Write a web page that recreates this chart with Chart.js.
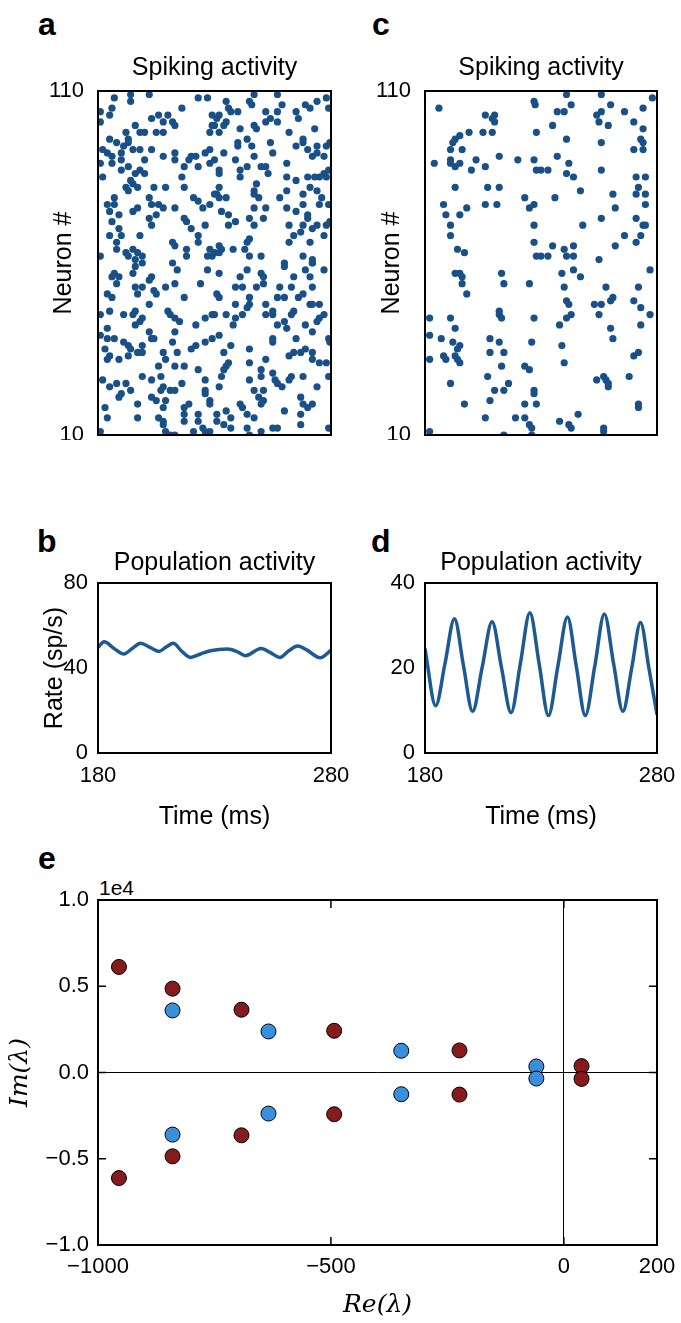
<!DOCTYPE html>
<html>
<head>
<meta charset="utf-8">
<script src="https://cdn.jsdelivr.net/npm/chart.js@4.4.0/dist/chart.umd.min.js"></script>
<style>
  html, body { margin: 0; padding: 0; background: #fff; overflow: hidden; }
  #fig { position: relative; width: 681px; height: 1323px; background: #fff; }
  canvas { position: absolute; }
  .lbl { position: absolute; font-family: "Liberation Sans", Arial, sans-serif; font-weight: bold; font-size: 32px; line-height: 32px; color: #000; }
  .off { position: absolute; font-family: "Liberation Sans", Arial, sans-serif; font-size: 21px; line-height: 21px; color: #000; }
</style>
</head>
<body>
<div id="fig">
  <div class="lbl" style="left:38px; top:8px;">a</div>
  <div class="lbl" style="left:372px; top:8px;">c</div>
  <div class="lbl" style="left:37px; top:525px;">b</div>
  <div class="lbl" style="left:371px; top:525px;">d</div>
  <div class="lbl" style="left:38px; top:842px;">e</div>
  <div class="off" style="left:99px; top:877px;">1e4</div>
  <canvas id="chart_a" width="345" height="400" style="left:0px; top:40px;"></canvas>
  <canvas id="chart_c" width="345" height="400" style="left:327px; top:40px;"></canvas>
  <canvas id="chart_b" width="370" height="302" style="left:0px; top:530px;"></canvas>
  <canvas id="chart_d" width="354" height="302" style="left:327px; top:530px;"></canvas>
  <canvas id="chart_e" width="681" height="443" style="left:0px; top:880px;"></canvas>
</div>
<script>
// spike rasters, [time (ms), neuron #]
const spikes_a = [
  [194,109],[194,107],[202,109],[223,108],[227,108],[187,108],[181,104],[186,105],[185,103],[181,101],
  [216,105],[206,103],[203,102],[210,103],[212,101],[213,100],[208,101],[229,103],[196,100],[229,100],
  [192,98],[198,98],[200,98],[205,98],[208,98],[193,96],[193,95],[191,94],[185,96],[188,95],
  [182,93],[184,92],[186,91],[190,92],[195,93],[198,93],[203,93],[228,98],[228,93],[230,90],
  [208,91],[213,92],[213,90],[219,90],[220,91],[222,91],[226,92],[200,90],[181,89],[186,89],
  [190,90],[190,87],[193,88],[196,86],[198,87],[200,86],[217,88],[216,85],[223,88],[228,89],
  [182,85],[194,84],[195,83],[197,82],[192,82],[193,81],[204,82],[209,82],[217,82],[230,80],
  [187,79],[184,77],[187,77],[185,75],[189,74],[195,75],[197,76],[202,79],[203,77],[206,77],
  [208,76],[213,76],[221,79],[223,78],[225,76],[228,77],[186,72],[202,73],[205,74],[217,73],
  [218,72],[203,71],[226,71],[189,70],[220,70],[185,68],[190,68],[198,68],[223,68],[223,66],
  [212,66],[213,65],[188,66],[188,64],[218,64],[228,64],[195,64],[192,63],[193,62],[197,63],
  [199,62],[181,62],[196,61],[218,62],[227,62],[229,62],
  [235,107],[236,105],[237,104],[232,103],[231,102],[240,104],[245,107],[246,106],[247,109],[257,109],
  [259,106],[269,106],[271,105],[274,107],[278,108],[279,105],[252,104],[257,104],[254,102],[252,101],
  [257,101],[265,104],[266,102],[235,101],[234,100],[230,100],[232,98],[247,100],[248,99],[241,99],
  [244,96],[240,95],[240,94],[246,94],[254,95],[255,92],[262,98],[268,96],[268,95],[273,99],
  [265,94],[270,93],[274,94],[274,92],[278,94],[279.5,95],[234,92],[272,91],[277,91],[239,90],
  [247,91],[250,88],[252,88],[253,86],[244,88],[241,87],[241,85],[232,87],[232,86],[261,89],
  [261,85],[265,84],[270,85],[273,85],[275,85],[277,86],[279,87],[278,85],[232,82],[231,80],
  [232,79],[235,79],[247,81],[248,83],[247,80],[249,79],[258,79],[261,81],[268,80],[271,82],
  [274,81],[276,79],[268,77],[275,77],[279,77],[247,76],[233,75],[236,74],[239,72],[245,73],
  [251,73],[252,76],[261,76],[265,75],[270,74],[270,73],[236,71],[247,71],[262,71],[268,71],
  [272,70],[274,71],[278,71],[279.5,72],[267,69],[264,68],[262,66],[271,66],[277,68],[245,67],
  [244,66],[243,64],[232,65],[233,64],[238,64],[230,63],[232,63],[245,62],[250,62],[260,60],
  [268,62],[272,61],[272,60],
  [196,59],[199,60],[212,60],[187,57],[189,56],[186,56],[188,54],[195,57],[203,56],[202,55],
  [199,53],[196,53],[197,51],[204,52],[205,51],[209,53],[214,58],[213,54],[224,54],[227,58],
  [184,51],[186,50],[217,50],[202,48],[185,46],[191,45],[196,46],[195,45],[199,44],[198,43],
  [196,42],[210,46],[211,45],[213,44],[215,43],[181,45],[226,44],[229,45],[222,42],[184,41],
  [181,39],[184,38],[187,38],[191,37],[193,36],[194,35],[199,36],[202,40],[203,38],[204,38],
  [213,40],[212,37],[183,35],[185,33],[184,32],[189,32],[193,33],[197,34],[199,34],[208,34],
  [209,32],[214,34],[220,35],[222,36],[226,37],[229,38],[206,30],[213,30],[217,30],[223,29],
  [182,26],[185,24],[188,25],[192,25],[194,23],[190,22],[189,21],[199,27],[203,26],[207,27],
  [208,24],[207,23],[211,23],[213,23],[216,25],[226,26],[226,23],[226,22],[203,21],[205,20],
  [209,20],[183,18],[197,19],[208,18],[217,18],[219,19],[228,19],[228,20],[184,15],[197,15],
  [206,15],[208,14],[217,16],[217,14],[223,16],[223,14],[208,13],[209,11],[211,10],[213,10],
  [221,11],[225,12],[226,11],[228,11],[181,11],
  [244,58],[232,57],[250,57],[251,56],[260,59],[269,58],[272,60],[277,58],[241,56],[239,53],
  [242,53],[248,53],[251,54],[258,53],[264,56],[263,53],[271,56],[272,53],[231,51],[232,50],
  [245,50],[245,48],[239,48],[244,47],[242,45],[252,48],[255,46],[255,45],[252,45],[257,50],
  [260,50],[266,50],[268,51],[271,48],[272,48],[275,48],[277,45],[275,44],[274,43],[272,40],
  [269,42],[264,46],[263,45],[235,45],[230,45],[239,44],[238,42],[260,43],[261,41],[257,42],
  [255,38],[255,37],[265,38],[279,38],[279.5,37],[232,39],[237,36],[234,34],[245,35],[236,31],
  [235,30],[234,29],[233,27],[245,31],[252,32],[262,33],[264,34],[267,34],[269,35],[272,34],
  [272,32],[275,31],[278,31],[250,29],[250,27],[255,28],[256,26],[257,25],[259,24],[263,27],
  [262,26],[268,27],[279,27],[232,24],[245,26],[247,23],[251,23],[274,24],[249,21],[251,20],
  [250,19],[241,19],[242,18],[235,17],[231,16],[244,16],[247,15],[260,17],[267,21],[268,19],
  [270,18],[272,19],[267,16],[231,14],[234,13],[237,15],[237,12],[244,12],[250,11],[255,12],
  [257,12],[245,10],[267,13],[279,12]
];

const spikes_c = [
  [186,105],[227,107],[227.5,106],[206,103],[210,103],[209,102],[210,101],[199,98],[205,98],[209,98],
  [228,98],[195,97],[193,96],[192,95],[191,93],[196,93],[212,91],[184,89],[191,90],[191,89],
  [193,88],[195,89],[202,90],[200,87],[206,88],[220,90],[227,90],[228,87],[193,82],[207,82],
  [212,82],[206,77],[211,77],[223,79],[227,77],[225,76],[188,77],[189,74],[195,74],[198,76],
  [191,71],[191,68],[227,71],[227,66],[194,64],[197,63],[228,62],
  [241,109],[256,109],[243,106],[237,104],[240,104],[254,103],[255,101],[256,104],[260,106],[259,100],
  [266,104],[270,101],[274,105],[278,108],[235,100],[241,96],[256,95],[274,99],[273,96],[274,95],
  [270,93],[274,93],[237,91],[230,87],[233,87],[241,86],[242,89],[244,85],[256,87],[271,85],
  [275,85],[247,81],[261,80],[271,80],[272,82],[275,80],[236,79],[275,77],[262,76],[256,73],
  [271,73],[248,71],[275,71],[274,71],[266,68],[273,68],[271,66],[262,65],[235,65],[240,64],
  [244,65],[230,62],[233,62],[241,62],[244,62],[255,61],
  [193,57],[195,57],[196,56],[196,54],[198,51],[213,57],[214,54],[225,54],[212,46],[212,45],
  [213,44],[182,44],[191,44],[193,41],[227,44],[182,39],[187,38],[192,37],[195,36],[194,35],
  [208,38],[212,37],[226,37],[208,34],[214,34],[182,32],[188,33],[189,32],[193,33],[194,32],
  [195,31],[213,30],[223,30],[225,29],[207,27],[191,25],[216,25],[210,23],[214,23],[227,23],
  [227,22],[197,19],[208,20],[223,19],[228,19],[206,15],[219,15],[223,15],[225,13],[226,12],
  [226,10],[182,11],[214,10],
  [244,58],[239,57],[247,56],[277,58],[240,53],[258,53],[272,53],[241,49],[242,48],[243,45],
  [241,44],[238,42],[253,48],[256,48],[255,45],[260,49],[261,50],[270,49],[273,47],[277,45],
  [273,42],[260,41],[261,38],[239,36],[240,31],[270,33],[272,34],[257,27],[258,26],[259,25],
  [259,24],[254,26],[268,27],[272,19],[272,18],[246,16],[238,14],[242,13],[243,12],[257,12],
  [257,11]
];

// population rate traces
const time_b = [180,182.6,186.9,191.1,194.7,198.3,202.3,206.1,209.4,212.3,216.1,219.7,224,228.3,235.4,239.7,243.3,250,254,258,261.9,265.7,269.7,275.4,280];
const rate_b = [49.7,52.3,49.2,46.6,49.2,51.6,49.7,47.8,50.0,51.6,47.7,45.0,46.6,48.1,48.9,47.7,45.8,49.2,47.2,45.0,48.1,50.3,48.4,44.8,48.4];

const time_d = [180,184.6,188.6,192.7,196.6,200.5,204.7,208.9,213,217.1,221.1,225.2,229.2,233.2,237.3,241.4,245.2,249.1,253.2,257.3,261.3,265.3,269.1,272.9,276.5,280];
const rate_d = [24.6,11.1,21,31.6,20.5,9.8,20.3,30.9,20,9.5,21,33.0,21,8.8,20.5,32.0,20.5,8.8,20.5,32.7,21,9.8,20,30.7,20,9.0];

// eigenvalues
const re_blue = [-840,-634,-349,-59,-59,-349,-634,-840];
const im_blue = [3600,2380,1260,350,-350,-1260,-2380,-3600];
const re_red = [-955,-840,-692,-493,-224,38,38,-224,-493,-692,-840,-955];
const im_red = [6120,4860,3640,2420,1280,370,-370,-1280,-2420,-3640,-4860,-6120];

const rasterTicks = [10, 110];
const timeTicks = [180, 280];
const reTicks = [-1000, -500, 0, 200];
const imTicks = [-10000, -5000, 0, 5000, 10000];

const FONT = '"Liberation Sans", Arial, sans-serif';
const SERIF = '"DejaVu Serif", "Liberation Serif", serif';
const DOT = '#185087';
const LINE = '#1d5a93';
const TICK = 22;

Chart.defaults.font.family = FONT;
Chart.defaults.color = '#000';
Chart.defaults.animation = false;

const framePlugin = {
  id: 'frame',
  afterDatasetsDraw(chart) {
    const {ctx, chartArea: a} = chart;
    ctx.save();
    ctx.strokeStyle = '#000';
    ctx.lineWidth = 2;
    ctx.strokeRect(a.left, a.top, a.right - a.left, a.bottom - a.top);
    ctx.restore();
  }
};

const innerTicks = {
  id: 'innerTicks',
  afterDatasetsDraw(chart) {
    const {ctx, chartArea: a, scales} = chart;
    const len = 8;
    ctx.save();
    ctx.strokeStyle = '#000';
    ctx.lineWidth = 1.5;
    ctx.beginPath();
    scales.x.ticks.forEach(t => {
      const p = scales.x.getPixelForValue(t.value);
      ctx.moveTo(p, a.bottom); ctx.lineTo(p, a.bottom - len);
      ctx.moveTo(p, a.top); ctx.lineTo(p, a.top + len);
    });
    scales.y.ticks.forEach(t => {
      const p = scales.y.getPixelForValue(t.value);
      ctx.moveTo(a.left, p); ctx.lineTo(a.left + len, p);
      ctx.moveTo(a.right, p); ctx.lineTo(a.right - len, p);
    });
    ctx.stroke();
    ctx.restore();
  }
};

function toPoints(xs, ys) {
  return xs.map((x, i) => ({x: x, y: ys[i]}));
}
function fixedTicks(values) {
  return function (scale) { scale.ticks = values.map(v => ({value: v})); };
}
function minus(v) {
  return String(v).replace('-', '\u2212');
}
// fix the box of an axis so the plot areas line up from panel to panel
function fixWidth(w) {
  return function (s) { s.width = w; s.paddingTop = 0; s.paddingBottom = 0; };
}
function fixHeight(h) {
  return function (s) { s.height = h; s.paddingLeft = 0; s.paddingRight = 0; };
}
function topTitle(text, h, pad) {
  return {
    type: 'linear', position: 'top', min: 180, max: 280,
    afterFit: fixHeight(h),
    grid: {display: false, drawTicks: false},
    border: {display: false},
    ticks: {display: false},
    title: {display: true, text: text, font: {size: 25}, padding: {top: pad, bottom: 0}}
  };
}

function rasterChart(id, spikes, yTitlePad, rightPad) {
  return new Chart(document.getElementById(id), {
    type: 'scatter',
    data: {
      datasets: [{
        data: spikes.map(s => ({x: s[0], y: s[1]})),
        backgroundColor: DOT,
        borderWidth: 0,
        pointRadius: 3.6,
        clip: 0
      }]
    },
    options: {
      responsive: false,
      layout: {padding: {top: 0, right: rightPad, bottom: 5, left: 0}},
      plugins: {legend: {display: false}, tooltip: {enabled: false}},
      scales: {
        x: topTitle('Spiking activity', 51, 13.4),
        y: {
          min: 10, max: 110,
          afterBuildTicks: fixedTicks(rasterTicks),
          afterFit: fixWidth(98),
          grid: {display: false, drawTicks: false},
          border: {display: false},
          ticks: {font: {size: TICK}, padding: 14},
          title: {display: true, text: 'Neuron #', font: {size: 25}, padding: {top: yTitlePad, bottom: 0}}
        }
      }
    },
    plugins: [framePlugin]
  });
}

function rateChart(id, times, rates, yMax, yTitle, rightPad) {
  return new Chart(document.getElementById(id), {
    type: 'scatter',
    data: {
      datasets: [{
        data: toPoints(times, rates),
        showLine: true,
        borderColor: LINE,
        borderWidth: 3.5,
        pointRadius: 0,
        cubicInterpolationMode: 'monotone',
        clip: 0
      }]
    },
    options: {
      responsive: false,
      layout: {padding: {top: 0, right: rightPad, bottom: 0, left: 0}},
      plugins: {legend: {display: false}, tooltip: {enabled: false}},
      scales: {
        xt: topTitle('Population activity', 53, 18),
        x: {
          type: 'linear', min: 180, max: 280,
          afterBuildTicks: fixedTicks(timeTicks),
          afterFit: fixHeight(79),
          grid: {display: false, drawTicks: false},
          border: {display: false},
          ticks: {font: {size: TICK}, padding: 10, maxRotation: 0},
          title: {display: true, text: 'Time (ms)', font: {size: 25}, padding: {top: 0, bottom: 0}}
        },
        y: {
          min: 0, max: yMax,
          afterBuildTicks: fixedTicks([0, yMax / 2, yMax]),
          afterFit: fixWidth(98),
          grid: {display: false, drawTicks: false},
          border: {display: false},
          ticks: {font: {size: TICK}, padding: 10},
          title: {display: yTitle !== '', text: yTitle, font: {size: 25}, padding: {top: 40, bottom: 0}}
        }
      }
    },
    plugins: [framePlugin]
  });
}

const chart_a = rasterChart('chart_a', spikes_a, 49, 14);
const chart_c = rasterChart('chart_c', spikes_c, 50, 15);
const chart_b = rateChart('chart_b', time_b, rate_b, 80, 'Rate (sp/s)', 39);
const chart_d = rateChart('chart_d', time_d, rate_d, 40, '', 24);

const chart_e = new Chart(document.getElementById('chart_e'), {
  type: 'scatter',
  data: {
    datasets: [
      {
        label: 'blue',
        data: toPoints(re_blue, im_blue),
        backgroundColor: '#3a8fdc',
        borderColor: '#000',
        borderWidth: 1,
        pointRadius: 7.5
      },
      {
        label: 'red',
        data: toPoints(re_red, im_red),
        backgroundColor: '#861a1c',
        borderColor: '#000',
        borderWidth: 1,
        pointRadius: 7.5
      }
    ]
  },
  options: {
    responsive: false,
    layout: {padding: {top: 20, right: 24, bottom: 0, left: 0}},
    plugins: {legend: {display: false}, tooltip: {enabled: false}},
    scales: {
      x: {
        type: 'linear', min: -1000, max: 200,
        afterBuildTicks: fixedTicks(reTicks),
        afterFit: fixHeight(78),
        grid: {color: c => (c.tick && c.tick.value === 0 ? '#000' : 'rgba(0,0,0,0)'), lineWidth: 1, drawTicks: false},
        border: {display: false},
        ticks: {font: {size: TICK}, padding: 9, maxRotation: 0, callback: v => minus(v)},
        title: {display: true, text: 'Re(\u03bb)', font: {size: 25, family: SERIF, style: 'italic'}, padding: {top: 0, bottom: 3}}
      },
      y: {
        min: -10000, max: 10000,
        afterBuildTicks: fixedTicks(imTicks),
        afterFit: fixWidth(98),
        grid: {color: c => (c.tick && c.tick.value === 0 ? '#000' : 'rgba(0,0,0,0)'), lineWidth: 1, drawTicks: false},
        border: {display: false},
        ticks: {font: {size: TICK}, padding: 9, callback: v => minus((v / 10000).toFixed(1))},
        title: {display: true, text: 'Im(\u03bb)', font: {size: 25, family: SERIF, style: 'italic'}, padding: {top: 5, bottom: 0}}
      }
    }
  },
  plugins: [framePlugin, innerTicks]
});
</script>
</body>
</html>
